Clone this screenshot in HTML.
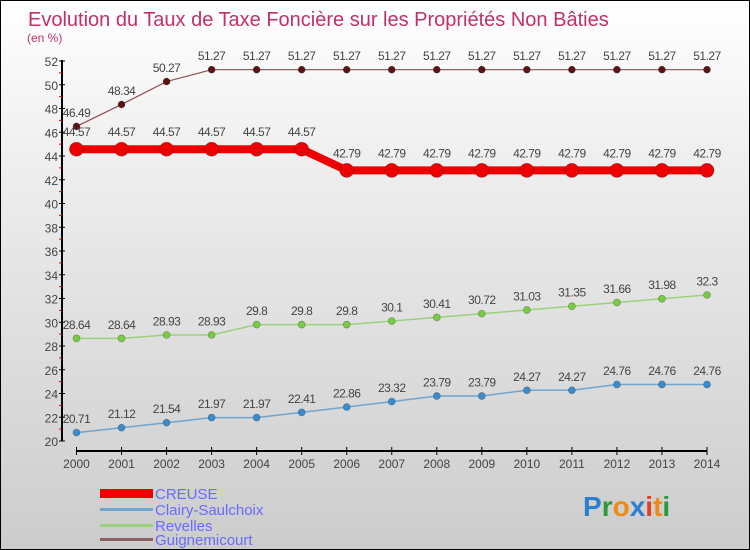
<!DOCTYPE html>
<html><head><meta charset="utf-8"><style>
body{margin:0}
#c{width:748px;height:548px;border:1px solid #000;background:linear-gradient(#fff 0%,#eee 30%,#ccc 100%);position:relative;overflow:hidden;font-family:"Liberation Sans",sans-serif}
</style></head><body>
<div id="c">
<svg id="s" width="748" height="548" xmlns="http://www.w3.org/2000/svg" style="position:absolute;left:0;top:0">
<text x="27" y="25" font-size="20" fill="#c0306a">Evolution du Taux de Taxe Foncière sur les Propriétés Non Bâties</text>
<text x="26" y="41" font-size="12" fill="#c0306a">(en %)</text>
<g id="axes"></g><g id="series"></g>
<g font-size="15" fill="#6a6aff">
<rect x="99" y="488" width="53" height="9" fill="#e00"/>
<text x="154" y="498">CREUSE</text>
<rect x="99" y="507" width="53" height="3" fill="#6fa5cf"/>
<text x="154" y="514">Clairy-Saulchoix</text>
<rect x="99" y="523" width="53" height="3" fill="#99d27a"/>
<text x="154" y="530">Revelles</text>
<rect x="99" y="537" width="53" height="3" fill="#8c6060"/>
<text x="154" y="544">Guignemicourt</text>
</g>
<text x="582" y="515" font-size="28" font-weight="bold"><tspan fill="#2a7fd0">P</tspan><tspan fill="#2a9a3a">r</tspan><tspan fill="#f08a10">o</tspan><tspan fill="#2a7fd0">x</tspan><tspan fill="#e04020">i</tspan><tspan fill="#f08a10">t</tspan><tspan fill="#2a9a3a">i</tspan></text>
</svg>
</div>
<script>
const years=[2000,2001,2002,2003,2004,2005,2006,2007,2008,2009,2010,2011,2012,2013,2014];
const creuse=[44.57,44.57,44.57,44.57,44.57,44.57,42.79,42.79,42.79,42.79,42.79,42.79,42.79,42.79,42.79];
const clairy=[20.71,21.12,21.54,21.97,21.97,22.41,22.86,23.32,23.79,23.79,24.27,24.27,24.76,24.76,24.76];
const revelles=[28.64,28.64,28.93,28.93,29.8,29.8,29.8,30.1,30.41,30.72,31.03,31.35,31.66,31.98,32.3];
const guigne=[46.49,48.34,50.27,51.27,51.27,51.27,51.27,51.27,51.27,51.27,51.27,51.27,51.27,51.27,51.27];
const yTicks=[20,22,24,26,28,30,32,34,36,38,40,42,44,46,48,50,52];
const NS="http://www.w3.org/2000/svg";
function X(i){return 75.5+i*(706-75.5)/(years.length-1);}
function Y(v){return 440-(v-20)*11.875;}
function mk(t,a,p){const e=document.createElementNS(NS,t);for(const k in a)e.setAttribute(k,a[k]);p.appendChild(e);return e;}
const ax=document.getElementById('axes'),se=document.getElementById('series');
let e=mk('line',{x1:61,y1:Y(52)-1,x2:61,y2:440,stroke:'#000','stroke-width':2},ax);


e=mk('line',{x1:75,y1:450,x2:706,y2:450,stroke:'#000','stroke-width':2},ax);


const yMax=yTicks[yTicks.length-1];
yTicks.forEach(v=>{
 mk('line',{x1:58,y1:Y(v),x2:64,y2:Y(v),stroke:'#000'},ax);
 if(v<yMax) mk('line',{x1:58,y1:Y(v+1),x2:61,y2:Y(v+1),stroke:'#e00'},ax);
 const t=mk('text',{x:57,y:Y(v)+5,'font-size':12,fill:'#444','text-anchor':'end'},ax);t.textContent=v;
 
 
});
years.forEach((yr,i)=>{
 mk('line',{x1:X(i),y1:446,x2:X(i),y2:454,stroke:'#000'},ax);
 const t=mk('text',{x:X(i),y:467,'font-size':12,fill:'#444','text-anchor':'middle'},ax);t.textContent=yr;
 
 
});
function series(d,col,dot,w,r,name){
 const g=mk('g',{},se);
 
 
 mk('polyline',{points:d.map((v,i)=>X(i)+','+Y(v)).join(' '),fill:'none',stroke:col,'stroke-width':w},g);
 d.forEach((v,i)=>{
  const c=mk('circle',{cx:X(i),cy:Y(v),r:r,fill:dot,stroke:'rgba(0,0,0,0.3)','stroke-width':0.7},g);
  
  
  const t=mk('text',{x:X(i),y:Y(v)-(r+6),'font-size':12,fill:'#444','text-anchor':'middle','letter-spacing':'-0.5'},g);
  t.textContent=v;
  
  
 });
}
series(clairy,'#6fa5cf','#3a8ccc',1.5,3.5,'clairy');
series(revelles,'#99d27a','#77cc44',1.5,3.5,'revelles');
series(guigne,'#8c5050','#5a1414',1.2,3.5,'guignemicourt');
series(creuse,'#e00','#e00',8,7,'creuse');
</script>
</body></html>
